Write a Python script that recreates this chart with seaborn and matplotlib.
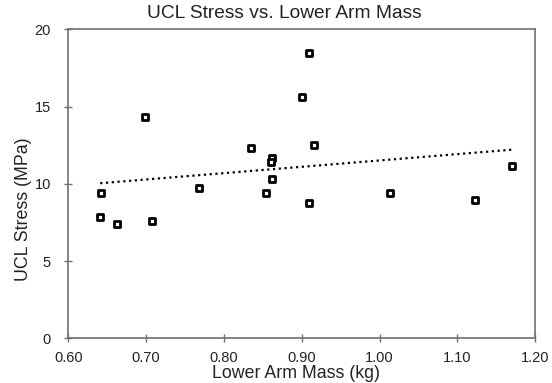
import numpy as np
import pandas as pd
import matplotlib
matplotlib.use("Agg")
import matplotlib.pyplot as plt
import seaborn as sns

# Masa del antebrazo (kg) y esfuerzo UCL (MPa)
arm_mass = [0.642, 0.641, 0.663, 0.707, 0.698, 0.768, 0.835, 0.854, 0.862,
            0.861, 0.862, 0.900, 0.909, 0.916, 0.909, 1.013, 1.123, 1.170]
ucl_stress = [9.44, 7.84, 7.43, 7.60, 14.31, 9.74, 12.34, 9.40, 11.67,
              11.39, 10.29, 15.65, 18.47, 12.49, 8.75, 9.44, 8.94, 11.19]

x_ticks = [0.60, 0.70, 0.80, 0.90, 1.00, 1.10, 1.20]
y_ticks = [0, 5, 10, 15, 20]

df = pd.DataFrame({"mass": arm_mass, "stress": ucl_stress})

sns.set_style("white")
plt.rcParams["font.family"] = ["Liberation Sans", "DejaVu Sans"]

fig = plt.figure(figsize=(5.52, 3.83), dpi=100)
ax = fig.add_axes([0.1237, 0.1167, 0.9698 - 0.1237, 0.923 - 0.1167])

# linea de tendencia (regresion lineal)
slope, intercept = np.polyfit(df["mass"], df["stress"], 1)
xs = np.array([df["mass"].min(), df["mass"].max()])
ax.plot(xs, slope * xs + intercept, color="black", linestyle=(0, (1, 1.6)),
        linewidth=1.6, zorder=2)

sns.scatterplot(data=df, x="mass", y="stress", ax=ax, marker="s", s=16,
                facecolor="white", edgecolor="black", linewidth=2.0, zorder=3)

ax.set_xlim(0.60, 1.20)
ax.set_ylim(0, 20)
ax.set_xticks(x_ticks)
ax.set_xticklabels([f"{v:.2f}" for v in x_ticks])
ax.set_yticks(y_ticks)

for sp in ax.spines.values():
    sp.set_color("#707070")
    sp.set_linewidth(1.2)
ax.tick_params(bottom=True, left=True, direction="inout", length=6, width=1.0,
               color="#707070", labelsize=10.5, labelcolor="#222222")
ax.tick_params(axis="x", pad=6)
ax.tick_params(axis="y", pad=9.5)

ax.set_xlabel("Lower Arm Mass (kg)", fontsize=12.8, color="#222222")
ax.xaxis.set_label_coords(0.4876, -0.087)
ax.set_ylabel("UCL Stress (MPa)", fontsize=12.8, color="#222222")
ax.yaxis.set_label_coords(-0.0786, 0.418)
ax.set_title("UCL Stress vs. Lower Arm Mass", fontsize=13.8, color="#222222",
             x=0.462, pad=8.5)

fig.savefig("out.png", dpi=100)
